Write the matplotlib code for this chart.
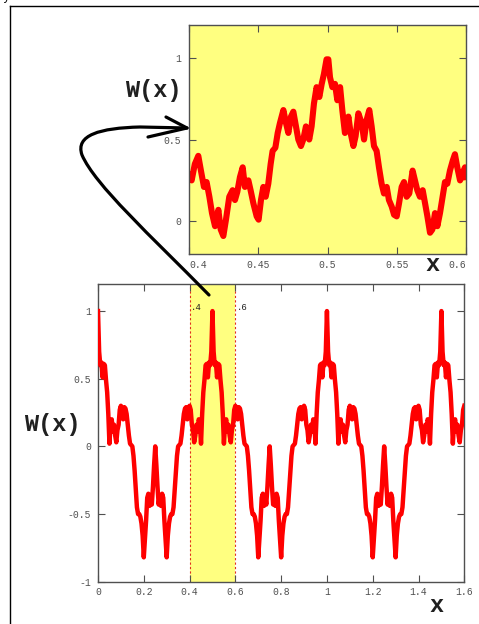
import numpy as np
import matplotlib
matplotlib.use("Agg")
import matplotlib.pyplot as plt
from matplotlib.path import Path
from matplotlib.patches import PathPatch
from matplotlib.lines import Line2D

plt.rcParams['font.family'] = ['Liberation Mono', 'DejaVu Sans Mono']

main_step = 0.005
main_w = [
    1.00, 0.70, 0.60, 0.62, 0.51, 0.61, 0.60, 0.49, 0.40, 0.24, 0.02, 0.17, 0.20, 0.11, 0.16, 0.08, 0.03, 0.12, 0.16, 0.27,
    0.30, 0.22, 0.20, 0.29, 0.28, 0.24, 0.16, 0.08, 0.02, 0.01, 0.00, -0.07, -0.18, -0.32, -0.45, -0.50, -0.50, -0.52, -0.57, -0.66,
    -0.82, -0.68, -0.55, -0.38, -0.35, -0.44, -0.36, -0.43, -0.30, -0.14, 0.00, -0.14, -0.30, -0.43, -0.36, -0.44, -0.35, -0.38, -0.55, -0.68,
    -0.82, -0.66, -0.57, -0.52, -0.50, -0.50, -0.45, -0.32, -0.18, -0.07, 0.00, 0.01, 0.02, 0.08, 0.16, 0.24, 0.28, 0.29, 0.20, 0.22,
    0.30, 0.27, 0.16, 0.12, 0.03, 0.08, 0.16, 0.11, 0.20, 0.17, 0.02, 0.24, 0.40, 0.49, 0.60, 0.61, 0.51, 0.62, 0.60, 0.70,
    1.00, 0.70, 0.60, 0.62, 0.51, 0.61, 0.60, 0.49, 0.40, 0.24, 0.02, 0.17, 0.20, 0.11, 0.16, 0.08, 0.03, 0.12, 0.16, 0.27,
    0.30, 0.22, 0.20, 0.29, 0.28, 0.24, 0.16, 0.08, 0.02, 0.01, 0.00, -0.07, -0.18, -0.32, -0.45, -0.50, -0.50, -0.52, -0.57, -0.66,
    -0.82, -0.68, -0.55, -0.38, -0.35, -0.44, -0.36, -0.43, -0.30, -0.14, 0.00, -0.14, -0.30, -0.43, -0.36, -0.44, -0.35, -0.38, -0.55, -0.68,
    -0.82, -0.66, -0.57, -0.52, -0.50, -0.50, -0.45, -0.32, -0.18, -0.07, 0.00, 0.01, 0.02, 0.08, 0.16, 0.24, 0.28, 0.29, 0.20, 0.22,
    0.30, 0.27, 0.16, 0.12, 0.03, 0.08, 0.16, 0.11, 0.20, 0.17, 0.02, 0.24, 0.40, 0.49, 0.60, 0.61, 0.51, 0.62, 0.60, 0.70,
    1.00, 0.70, 0.60, 0.62, 0.51, 0.61, 0.60, 0.49, 0.40, 0.24, 0.02, 0.17, 0.20, 0.11, 0.16, 0.08, 0.03, 0.12, 0.16, 0.27,
    0.30, 0.22, 0.20, 0.29, 0.28, 0.24, 0.16, 0.08, 0.02, 0.01, 0.00, -0.07, -0.18, -0.32, -0.45, -0.50, -0.50, -0.52, -0.57, -0.66,
    -0.82, -0.68, -0.55, -0.38, -0.35, -0.44, -0.36, -0.43, -0.30, -0.14, 0.00, -0.14, -0.30, -0.43, -0.36, -0.44, -0.35, -0.38, -0.55, -0.68,
    -0.82, -0.66, -0.57, -0.52, -0.50, -0.50, -0.45, -0.32, -0.18, -0.07, 0.00, 0.01, 0.02, 0.08, 0.16, 0.24, 0.28, 0.29, 0.20, 0.22,
    0.30, 0.27, 0.16, 0.12, 0.03, 0.08, 0.16, 0.11, 0.20, 0.17, 0.02, 0.24, 0.40, 0.49, 0.60, 0.61, 0.51, 0.62, 0.60, 0.70,
    1.00, 0.70, 0.60, 0.62, 0.51, 0.61, 0.60, 0.49, 0.40, 0.24, 0.02, 0.17, 0.20, 0.11, 0.16, 0.08, 0.03, 0.12, 0.16, 0.27,
    0.30,
]
main_x = np.arange(len(main_w)) * main_step

# zoomed window 0.4 .. 0.6
zoom_x = [
    0.4000, 0.4017, 0.4040, 0.4065, 0.4084, 0.4106, 0.4125, 0.4145, 0.4164, 0.4186,
    0.4210, 0.4227, 0.4246, 0.4265, 0.4289, 0.4313, 0.4330, 0.4347, 0.4366, 0.4386,
    0.4402, 0.4427, 0.4443, 0.4463, 0.4487, 0.4501, 0.4518, 0.4535, 0.4552, 0.4571,
    0.4588, 0.4602, 0.4622, 0.4639, 0.4655, 0.4680, 0.4699, 0.4716, 0.4735, 0.4752,
    0.4771, 0.4788, 0.4807, 0.4824, 0.4843, 0.4867, 0.4884, 0.4901, 0.4920, 0.4940,
    0.4957, 0.4973, 0.4992, 0.5005, 0.5017, 0.5034, 0.5053, 0.5070, 0.5090, 0.5106,
    0.5125, 0.5150, 0.5166, 0.5186, 0.5202, 0.5222, 0.5246, 0.5263, 0.5282, 0.5301,
    0.5318, 0.5335, 0.5354, 0.5371, 0.5390, 0.5407, 0.5427, 0.5443, 0.5463, 0.5480,
    0.5499, 0.5516, 0.5535, 0.5552, 0.5571, 0.5590, 0.5614, 0.5631, 0.5648, 0.5667,
    0.5687, 0.5704, 0.5721, 0.5740, 0.5757, 0.5776, 0.5793, 0.5812, 0.5831, 0.5848,
    0.5865, 0.5884, 0.5904, 0.5920, 0.5937, 0.5957, 0.5973, 0.5993, 0.6000,
]
zoom_w = [
    0.28, 0.25, 0.35, 0.40, 0.31, 0.21, 0.24, 0.15, 0.05, -0.03,
    0.07, -0.05, -0.09, 0.01, 0.15, 0.19, 0.13, 0.18, 0.27, 0.33,
    0.21, 0.25, 0.19, 0.11, 0.03, 0.01, 0.13, 0.21, 0.15, 0.23,
    0.35, 0.43, 0.45, 0.54, 0.60, 0.68, 0.60, 0.54, 0.64, 0.67,
    0.58, 0.50, 0.46, 0.50, 0.58, 0.50, 0.58, 0.72, 0.82, 0.76,
    0.84, 0.90, 0.99, 0.99, 0.88, 0.82, 0.84, 0.74, 0.82, 0.68,
    0.54, 0.64, 0.54, 0.46, 0.52, 0.66, 0.60, 0.50, 0.62, 0.68,
    0.58, 0.46, 0.43, 0.33, 0.23, 0.17, 0.21, 0.13, 0.09, 0.04,
    0.03, 0.11, 0.21, 0.24, 0.15, 0.17, 0.31, 0.25, 0.19, 0.15,
    0.19, 0.11, 0.03, -0.07, -0.05, 0.05, -0.03, 0.05, 0.15, 0.24,
    0.23, 0.31, 0.37, 0.41, 0.33, 0.25, 0.29, 0.33, 0.27,
]

main_xticks = [0, 0.2, 0.4, 0.6, 0.8, 1, 1.2, 1.4, 1.6]
main_xlabels = ['0', '0.2', '0.4', '0.6', '0.8', '1', '1.2', '1.4', '1.6']
main_yticks = [-1, -0.5, 0, 0.5, 1]
main_ylabels = ['-1', '-0.5', '0', '0.5', '1']
zoom_xticks = [0.4, 0.45, 0.5, 0.55, 0.6]
zoom_xlabels = ['0.4', '0.45', '0.5', '0.55', '0.6']
zoom_yticks = [0, 0.5, 1]
zoom_ylabels = ['0', '0.5', '1']
window = (0.4, 0.6)

W, H = 479, 624
YELLOW = '#ffff80'
RED = '#ff0000'
SPINE = '#505050'
TICKTXT = '#505050'


def px(x, y):
    # pixel position (from top-left) -> figure fraction
    return x / W, 1 - y / H


def style_axes(ax, pad_x, pad_y):
    for s in ax.spines.values():
        s.set_color(SPINE)
        s.set_linewidth(1.0)
    ax.tick_params(direction='in', length=5, width=0.8, color=SPINE,
                   top=True, right=True, labelsize=7, labelcolor=TICKTXT)
    ax.tick_params(axis='x', pad=pad_x)
    ax.tick_params(axis='y', pad=pad_y)


fig = plt.figure(figsize=(W / 100, H / 100), dpi=100)

# lower panel
ax = fig.add_axes([98 / W, 1 - 581.7 / H, 366.3 / W, 297.7 / H])
ax.axvspan(*window, color=YELLOW, lw=0, zorder=0)
for xv in window:
    ax.axvline(xv, color='#e03020', lw=0.8, ls=(0, (2, 2)), zorder=1)
ax.plot(main_x, main_w, color=RED, lw=3.2, solid_joinstyle='round', zorder=3)
ax.set_xlim(0, 1.6)
ax.set_ylim(-1, 1.2)
ax.set_xticks(main_xticks)
ax.set_xticklabels(main_xlabels)
ax.set_yticks(main_yticks)
ax.set_yticklabels(main_ylabels)
style_axes(ax, 4, 5)
ax.annotate('.4', (window[0], 1.03), xytext=(1, 0), textcoords='offset points',
            fontsize=6.5, color='#202020', va='center', ha='left')
ax.annotate('.6', (window[1], 1.03), xytext=(1, 0), textcoords='offset points',
            fontsize=6.5, color='#202020', va='center', ha='left')

# upper panel (zoom of the yellow band)
axz = fig.add_axes([189.3 / W, 1 - 254 / H, 276.7 / W, 229 / H])
axz.set_facecolor(YELLOW)
axz.plot(zoom_x, zoom_w, color=RED, lw=4.4, solid_joinstyle='round')
axz.set_xlim(*window)
axz.set_ylim(-0.2, 1.2)
axz.set_xticks(zoom_xticks)
axz.set_xticklabels(zoom_xlabels)
axz.set_yticks(zoom_yticks)
axz.set_yticklabels(zoom_ylabels)
style_axes(axz, 4, 6)
labs = axz.get_xticklabels()
labs[0].set_ha('left')
labs[-1].set_ha('right')

# axis titles
lab = dict(fontsize=17, fontweight='bold', color='#202020', family='Liberation Mono')
fig.text(*px(52, 425), 'W(x)', ha='center', va='center', **lab)
fig.text(*px(153.5, 90), 'W(x)', ha='center', va='center', **lab)
fig.text(*px(437, 606), 'x', ha='center', va='center', **lab)
fig.text(*px(433, 264), 'x', ha='center', va='center', **lab)

# hand-drawn arrow from the band up to the zoom panel
verts = [px(209, 295),
         px(150, 235), px(95, 185), px(82, 155),
         px(75, 135), px(100, 128), px(140, 127),
         px(187, 128)]
codes = [Path.MOVETO, Path.CURVE4, Path.CURVE4, Path.CURVE4,
         Path.CURVE4, Path.CURVE4, Path.CURVE4, Path.LINETO]
fig.add_artist(PathPatch(Path(verts, codes), fill=False, lw=2.3, ec='black',
                         transform=fig.transFigure, zorder=10, capstyle='round'))
head = [px(166, 117), px(187, 128), px(148, 137)]
fig.add_artist(Line2D([p[0] for p in head], [p[1] for p in head], lw=2.3,
                      color='black', transform=fig.transFigure, zorder=10,
                      solid_capstyle='round', solid_joinstyle='round'))

# outer frame (left and top edges visible)
fig.add_artist(Line2D([9.5 / W, 9.5 / W], [0, 1 - 6 / H], lw=1, color='black',
                      transform=fig.transFigure))
fig.add_artist(Line2D([9.5 / W, 1], [1 - 6 / H, 1 - 6 / H], lw=1, color='black',
                      transform=fig.transFigure))
fig.text(*px(3, -3), 'y', fontsize=9, color='black', ha='left', va='center')

fig.savefig('out.png', dpi=100)
